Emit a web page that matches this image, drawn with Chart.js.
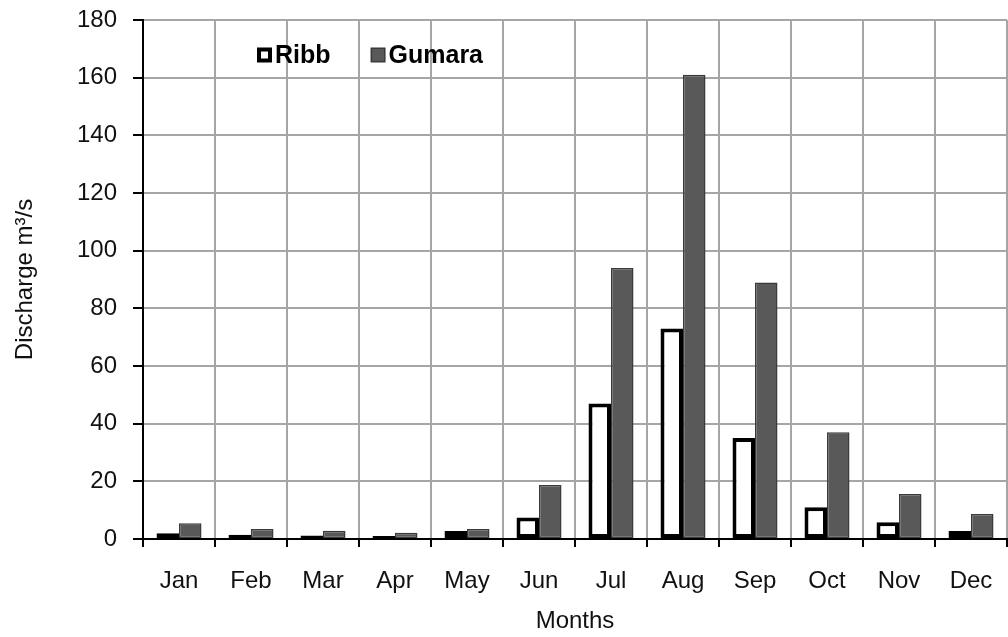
<!DOCTYPE html>
<html>
<head>
<meta charset="utf-8">
<script src="https://cdn.jsdelivr.net/npm/chart.js@4/dist/chart.umd.min.js"></script>
<style>
  html, body { margin: 0; padding: 0; background: #fff; }
  #wrap { width: 1008px; height: 637px; }
</style>
</head>
<body>
<div id="wrap"><canvas id="myChart" width="1008" height="637"></canvas></div>
<script>
// monthly discharge
var months = ["Jan", "Feb", "Mar", "Apr", "May", "Jun", "Jul", "Aug", "Sep", "Oct", "Nov", "Dec"];
var ribb = [2, 1.5, 1.2, 1, 2.8, 7.5, 47, 73, 35, 11, 5.8, 2.8];
var gumara = [5.5, 3.5, 2.9, 2.2, 3.5, 18.7, 94, 161, 89, 37, 15.6, 8.7];
var yTicks = [0, 20, 40, 60, 80, 100, 120, 140, 160, 180];

var FONT = "Arial, 'Liberation Sans', sans-serif";

// legend sits inside the plot area in the original
var insideLegend = {
  id: "insideLegend",
  afterDraw: function (chart) {
    var ctx = chart.ctx;
    var area = chart.chartArea;
    var x = area.left + 114;
    var y = area.top + 35;
    ctx.save();
    ctx.font = "bold 25px " + FONT;
    ctx.textBaseline = "middle";
    chart.data.datasets.forEach(function (ds) {
      var b = 15;
      ctx.fillStyle = ds.borderColor;
      ctx.fillRect(x, y - b / 2, b, b);
      var w = ds.legendBorder;
      ctx.fillStyle = ds.backgroundColor;
      ctx.fillRect(x + w, y - b / 2 + w, b - 2 * w, b - 2 * w);
      ctx.fillStyle = "#000";
      ctx.fillText(ds.label, x + 18, y + 1);
      x += 18 + ctx.measureText(ds.label).width + 40;
    });
    ctx.restore();
  }
};

new Chart("myChart", {
  type: "bar",
  data: {
    labels: months,
    datasets: [
      {
        label: "Ribb",
        data: ribb,
        backgroundColor: "#ffffff",
        borderColor: "#000000",
        borderWidth: 4,
        borderSkipped: false,
        legendBorder: 4
      },
      {
        label: "Gumara",
        data: gumara,
        backgroundColor: "#595959",
        borderColor: "#3a3a3a",
        borderWidth: 1.5,
        borderSkipped: false,
        legendBorder: 1.5
      }
    ]
  },
  plugins: [insideLegend],
  options: {
    responsive: false,
    animation: false,
    layout: { padding: { top: 20, right: 1, left: 0, bottom: 0 } },
    datasets: { bar: { categoryPercentage: 0.625, barPercentage: 1 } },
    plugins: {
      legend: { display: false },
      tooltip: { enabled: false }
    },
    scales: {
      x: {
        grid: { color: "#a6a6a6", lineWidth: 2, tickColor: "#000", tickLength: 8, tickWidth: 2 },
        border: { color: "#000", width: 2 },
        ticks: { color: "#111", font: { family: FONT, size: 24 }, padding: 20 },
        title: {
          display: true, text: "Months", color: "#111",
          font: { family: FONT, size: 24 }, padding: { top: 0, bottom: 1 }
        },
        afterFit: function (scale) {
          scale.height = 98;
          scale.paddingLeft = 0;
          scale.paddingRight = 0;
        }
      },
      y: {
        min: 0,
        max: 180,
        afterBuildTicks: function (scale) {
          scale.ticks = yTicks.map(function (v) { return { value: v }; });
        },
        grid: { color: "#a6a6a6", lineWidth: 2, tickColor: "#000", tickLength: 10, tickWidth: 2 },
        border: { color: "#000", width: 2 },
        ticks: { color: "#111", font: { family: FONT, size: 24 }, padding: 16 },
        title: {
          display: true, text: "Discharge m³/s", color: "#111",
          font: { family: FONT, size: 24 }, padding: { top: 11, bottom: 0 }
        },
        afterFit: function (scale) {
          scale.width = 143;
          scale.paddingTop = 0;
          scale.paddingBottom = 0;
        }
      }
    }
  }
});
</script>
</body>
</html>
